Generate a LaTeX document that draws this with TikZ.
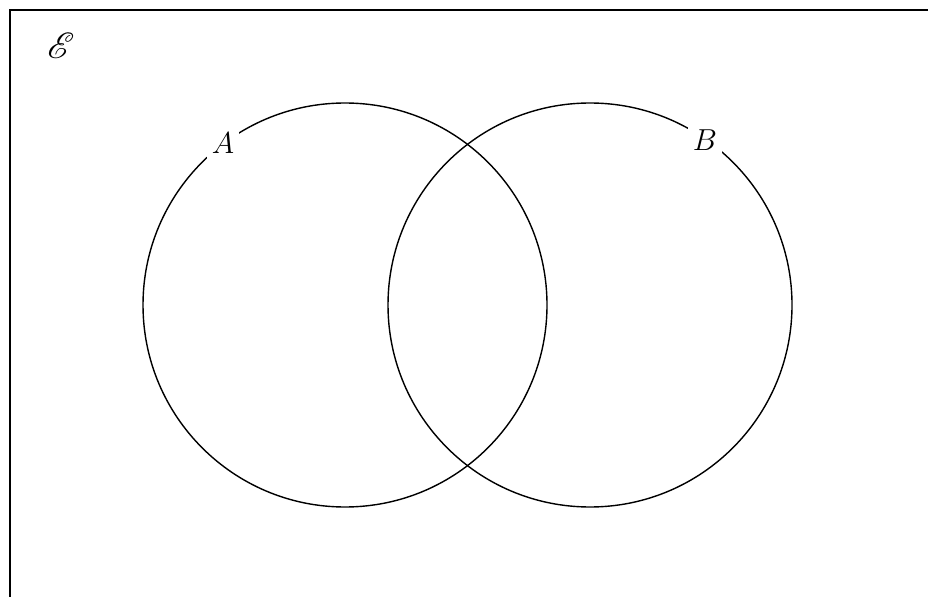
\documentclass[tikz,border=0pt]{standalone}
\usepackage{amssymb}
\usepackage{amsmath}
\usepackage{mathrsfs}
\usepackage{tikz}
\usetikzlibrary{positioning}

\begin{document}
\begin{tikzpicture}[x=0.02cm, y=-0.02cm,
  set/.style={draw, line width=0.8pt},
  lbl/.style={fill=white, inner sep=3pt, font=\fontsize{18}{21}\selectfont}]

  % Page area (frame runs past the right and bottom edges)
  \clip (0,0) rectangle (928,597);
  \draw[line width=1.1pt] (10,10) rectangle (960,640);
  \node[font=\fontsize{20}{24}\selectfont] (univ) at (61,46) {$\mathscr{E}$};

  % Sets
  \draw[set] (345,305) circle (202);
  \draw[set] (590,305) circle (202);

  % Set labels (break the outlines)
  \node[lbl] (setA) at (223,143) {$A$};
  \node[lbl] (setB) at (705,140) {$B$};

\end{tikzpicture}
\end{document}
